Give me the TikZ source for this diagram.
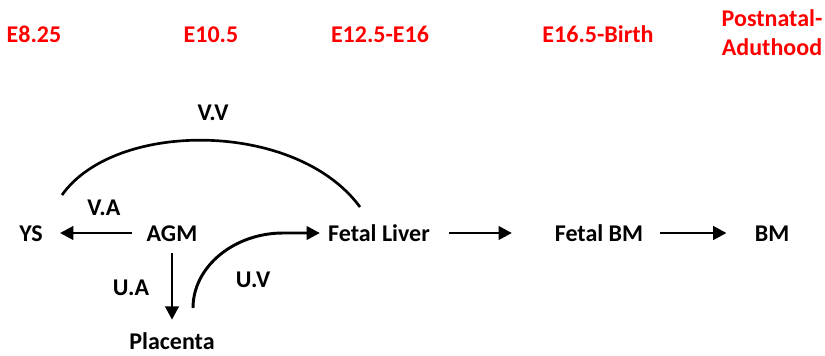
\documentclass[tikz,border=0pt]{standalone}
\usepackage{fontspec}
\setmainfont{Carlito}
\usetikzlibrary{calc,arrows.meta}
\definecolor{era}{HTML}{FF0000}
\tikzset{
  lbl/.style={font=\fontsize{18}{21.75}\selectfont\bfseries,inner sep=0pt,text height=12pt,text depth=0pt},
  era/.style={lbl,text=era},
  eras/.style={font=\fontsize{18}{21.75}\selectfont\bfseries,inner sep=0pt,text=era,align=center},
  flow/.style={-{Triangle[length=10pt,width=10pt]},line width=2.2pt},
  vessel/.style={line width=2pt},
}
\begin{document}
\begin{tikzpicture}[x=0.75pt,y=-0.75pt]
\useasboundingbox (0,0) rectangle (825,355);
\node[era]  (e8)   at (34,34)  {E8.25};
\node[era]  (e10)  at (211,34) {E10.5};
\node[era]  (e12)  at (380,34) {E12.5-E16};
\node[era]  (e16)  at (598,34) {E16.5-Birth};
\node[eras] (post) at (772,33) {Postnatal-\\Aduthood};
\node[lbl] (ys)   at (31,233)  {YS};
\node[lbl] (agm)  at (172,233) {AGM};
\node[lbl] (fl)   at (379,233) {Fetal Liver};
\node[lbl] (fbm)  at (599,233) {Fetal BM};
\node[lbl] (bm)   at (772,233) {BM};
\node[lbl] (plac) at (172,341) {Placenta};
\node[lbl] (vv) at (213,112) {V.V};
\node[lbl] (va) at (104,207) {V.A};
\node[lbl] (ua) at (131,287) {U.A};
\node[lbl] (uv) at (253,279) {U.V};
\draw[flow,shorten <=11pt,shorten >=12.75pt] (agm.west) -- (ys.east);
\draw[flow,shorten <=9pt,shorten >=9.75pt] (agm.south) -- (plac.north);
\draw[flow,shorten <=14pt,shorten >=32pt] (fl.east) -- (fbm.west);
\draw[flow,shorten <=12.75pt,shorten >=21pt] (fbm.east) -- (bm.west);
\draw[vessel] ([shift={(31,-38)}]ys.center) .. controls +(53,-75) and +(-64,-87) .. ([shift={(-19,-26)}]fl.center);
\draw[flow,shorten >=6pt] ([shift={(21,-33)}]plac.center) .. controls +(0,-42) and +(-48,0) .. ([shift={(-45,0)}]fl.west) -- (fl.west);
\end{tikzpicture}
\end{document}
